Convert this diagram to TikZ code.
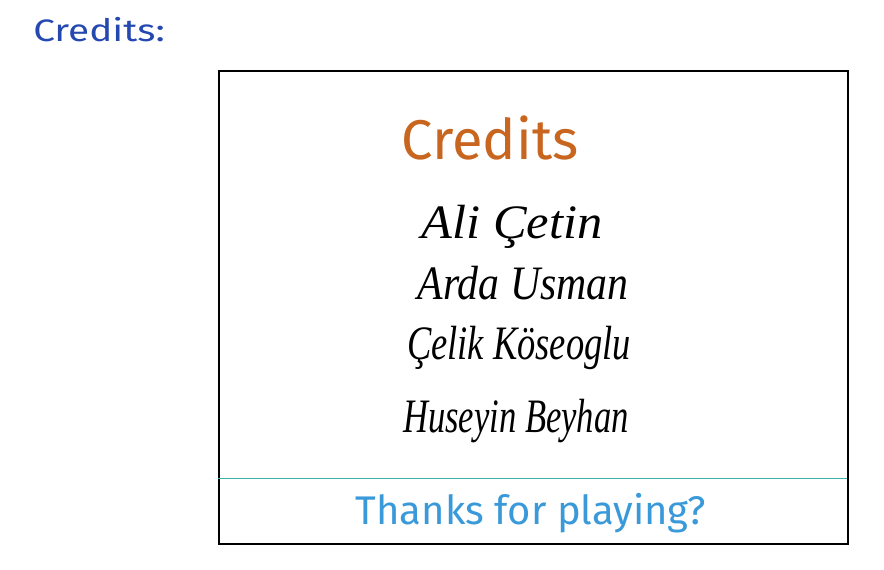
\documentclass[tikz,border=0pt]{standalone}
\usepackage{fontspec}
\setmainfont{Fira Sans}
\newfontfamily\namefont{Liberation Serif}
\definecolor{hdrblue}{HTML}{2448B0}
\definecolor{titleorange}{HTML}{C8651F}
\definecolor{footblue}{HTML}{3A9AD9}
\definecolor{lineteal}{HTML}{3CB4A8}
\tikzset{
  frame/.style={draw=black, line width=1.6pt},
  namestyle/.style={font=\namefont\itshape\fontsize{48}{52}\selectfont, text=black, inner sep=0pt, transform shape},
}
\begin{document}
\begin{tikzpicture}[x=1pt,y=-1pt]
\useasboundingbox (0,0) rectangle (884,570);
\node[font=\fontsize{31}{33}\selectfont, text=hdrblue, anchor=west, inner sep=0pt, transform shape, xscale=1.25] (hdr) at (33,30) {Credits:};
\node[frame, minimum width=629pt, minimum height=473pt, anchor=north west, inner sep=0pt] (box) at (218,70) {};
\node[font=\fontsize{56}{60}\selectfont, text=titleorange, inner sep=0pt] (title) at (490,138) {Credits};
\node[namestyle, xscale=1.05] (n1) at (512,227) {Ali Çetin};
\node[namestyle, xscale=0.87] (n2) at (523,283) {Arda Usman};
\node[namestyle, xscale=0.76] (n3) at (519,348) {Çelik Köseoglu};
\node[namestyle, xscale=0.72] (n4) at (516,421) {Huseyin Beyhan};
\coordinate (sepL) at (218,478);
\coordinate (sepR) at (847,478);
\draw[lineteal, line width=1pt] (sepL) -- (sepR);
\node[font=\fontsize{40}{42}\selectfont, text=footblue, inner sep=0pt] (thanks) at (531,513) {Thanks for playing?};
\end{tikzpicture}
\end{document}
